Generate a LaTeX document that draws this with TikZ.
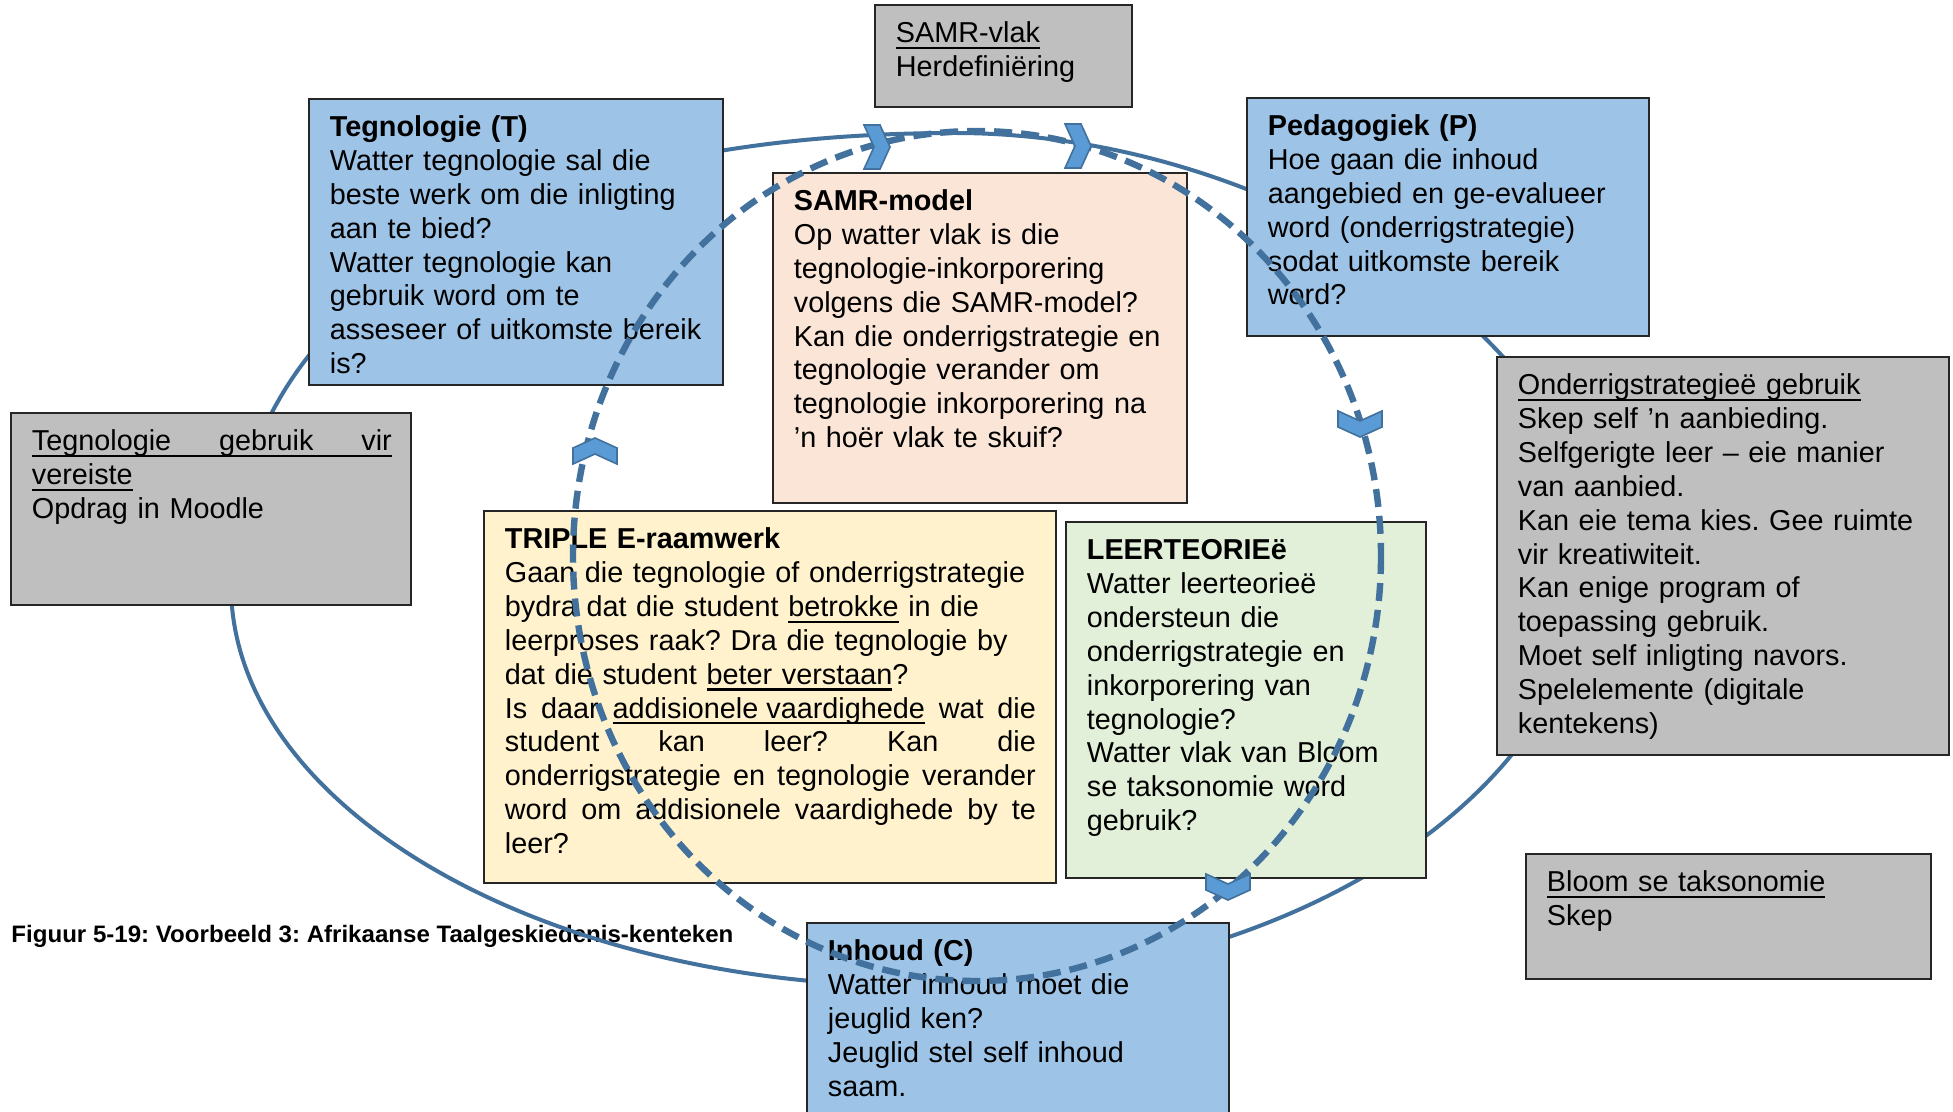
\documentclass[tikz,border=0pt]{standalone}
\usepackage{fontspec}
\setmainfont{Liberation Sans}
\usepackage{graphicx}
\frenchspacing

% underline drawn as a rule under the given text
\newsavebox\ulbox
\newcommand\ulx[1]{\leavevmode\sbox\ulbox{#1}\rlap{\rule[-3.2pt]{\wd\ulbox}{1.1pt}}\usebox\ulbox}
% a justified line: the spaces stretch to fill the given width
\newcommand\fillline[2]{\leavevmode\hbox to #1{\spaceskip=0.278em plus 1fil\relax #2}}

\definecolor{boxblue}{HTML}{9DC3E6}
\definecolor{boxpeach}{HTML}{FBE5D6}
\definecolor{boxcream}{HTML}{FFF2CC}
\definecolor{boxgreen}{HTML}{E2F0D9}
\definecolor{boxgrey}{HTML}{BFBFBF}
\definecolor{ringblue}{HTML}{41719C}
\definecolor{chevblue}{HTML}{5B9BD5}

\begin{document}
\begin{tikzpicture}[x=0.5pt,y=-0.5pt,
  panel/.style={draw=black!85, line width=0.75pt, anchor=north west, inner sep=0pt, outer sep=0pt},
  body/.style={anchor=base west, inner sep=0pt, align=left,
    font=\fontsize{14.4pt}{16.95pt}\selectfont},
  ring/.style={draw=ringblue, line width=2pt},
  dashring/.style={draw=ringblue, line width=3.2pt, dash pattern=on 9pt off 4.5pt},
  chevstyle/.style={fill=chevblue, draw=ringblue, line width=0.8pt, line join=miter},
  chev/.pic={\path[chevstyle] (-13,-22) -- (3,-22) -- (13,0) -- (3,22) -- (-13,22) -- (-3,0) -- cycle;}
]
\clip (0,0) rectangle (1953,1112);
\fill[white] (0,0) rectangle (1953,1112);

% caption
\node[anchor=base west, inner sep=0pt] (caption) at (11,942)
  {\resizebox{361pt}{\height}{\bfseries\fontsize{11.9pt}{14pt}\selectfont Figuur 5-19: Voorbeeld 3: Afrikaanse Taalgeskiedenis-kenteken}};

% outer cycle: four quarter arcs meeting at its extreme points
\coordinate (ringw) at (231,585);
\coordinate (ringn) at (955,133);
\coordinate (ringe) at (1590,550);
\coordinate (rings) at (920,986);
\draw[ring] (ringw) .. controls (231,304.8) and (506.1,133) .. (ringn)
  .. controls (1272.5,133) and (1590,341.5) .. (ringe)
  .. controls (1590,790.8) and (1290,986) .. (rings)
  .. controls (539.5,986) and (231,806.5) .. (ringw) -- cycle;

% panels
\node[panel, fill=boxgrey, minimum width=128.5pt, minimum height=51pt] (samrvlak) at (875,5) {};
\node[panel, fill=boxblue, minimum width=207pt, minimum height=143pt] (tech) at (309,99) {};
\node[panel, fill=boxblue, minimum width=201pt, minimum height=119pt] (ped) at (1247,98) {};
\node[panel, fill=boxpeach, minimum width=207pt, minimum height=165pt] (samr) at (773,173) {};
\node[panel, fill=boxgrey, minimum width=200pt, minimum height=96pt] (gebr) at (11,413) {};
\node[panel, fill=boxcream, minimum width=286pt, minimum height=186pt] (triple) at (484,511) {};
\node[panel, fill=boxgreen, minimum width=180pt, minimum height=178pt] (leer) at (1066,522) {};
\node[panel, fill=boxgrey, minimum width=226pt, minimum height=199pt] (ondr) at (1497,357) {};
\node[panel, fill=boxgrey, minimum width=202.5pt, minimum height=62.5pt] (bloom) at (1526,854) {};
\node[panel, fill=boxblue, minimum width=211pt, minimum height=110pt] (inhoud) at (807,923) {};

% panel texts
\node[body, text width=118pt] (samrvlaktxt) at ([shift={(20.5,37.5)}]samrvlak.north west)
  {\ulx{SAMR-vlak}\\Herdefiniëring};
\node[body, text width=200pt] (techtxt) at ([shift={(20.5,37.5)}]tech.north west)
  {\textbf{Tegnologie (T)}\\
   Watter tegnologie sal die\\
   beste werk om die inligting\\
   aan te bied?\\
   Watter tegnologie kan\\
   gebruik word om te\\
   asseseer of uitkomste bereik\\
   is?};
\node[body, text width=195pt] (pedtxt) at ([shift={(20.5,37.5)}]ped.north west)
  {\textbf{Pedagogiek (P)}\\
   Hoe gaan die inhoud\\
   aangebied en ge-evalueer\\
   word (onderrigstrategie)\\
   sodat uitkomste bereik\\
   word?};
\node[body, text width=200pt] (samrtxt) at ([shift={(20.5,37.5)}]samr.north west)
  {\textbf{SAMR-model}\\
   Op watter vlak is die\\
   tegnologie-inkorporering\\
   volgens die SAMR-model?\\
   Kan die onderrigstrategie en\\
   tegnologie verander om\\
   tegnologie inkorporering na\\
   ’n hoër vlak te skuif?};
\node[body, text width=190pt] (gebrtxt) at ([shift={(20.5,37.5)}]gebr.north west)
  {\ulx{\fillline{180pt}{Tegnologie gebruik vir}}\\
   \ulx{vereiste}\\
   Opdrag in Moodle};
\node[body, text width=276pt] (tripletxt) at ([shift={(20.5,37.5)}]triple.north west)
  {\textbf{TRIPLE E-raamwerk}\\
   Gaan die tegnologie of onderrigstrategie\\
   bydra dat die student \ulx{betrokke} in die\\
   leerproses raak? Dra die tegnologie by\\
   dat die student \ulx{beter verstaan}?\\
   \fillline{265.5pt}{Is daar \ulx{addisionele vaardighede} wat die}\\
   \fillline{265.5pt}{student kan leer? Kan die}\\
   \fillline{265.5pt}{onderrigstrategie en tegnologie verander}\\
   \fillline{265.5pt}{word om addisionele vaardighede by te}\\
   leer?};
\node[body, text width=175pt] (leertxt) at ([shift={(20.5,37.5)}]leer.north west)
  {\textbf{LEERTEORIEë}\\
   Watter leerteorieë\\
   ondersteun die\\
   onderrigstrategie en\\
   inkorporering van\\
   tegnologie?\\
   Watter vlak van Bloom\\
   se taksonomie word\\
   gebruik?};
\node[body, text width=218pt] (ondrtxt) at ([shift={(20.5,37.5)}]ondr.north west)
  {\ulx{Onderrigstrategieë gebruik}\\
   Skep self ’n aanbieding.\\
   Selfgerigte leer – eie manier\\
   van aanbied.\\
   Kan eie tema kies. Gee ruimte\\
   vir kreatiwiteit.\\
   Kan enige program of\\
   toepassing gebruik.\\
   Moet self inligting navors.\\
   Spelelemente (digitale\\
   kentekens)};
\node[body, text width=190pt] (bloomtxt) at ([shift={(20.5,37.5)}]bloom.north west)
  {\ulx{Bloom se taksonomie}\\Skep};
\node[body, text width=200pt] (inhoudtxt) at ([shift={(20.5,37.5)}]inhoud.north west)
  {\textbf{Inhoud (C)}\\
   Watter inhoud moet die\\
   jeuglid ken?\\
   Jeuglid stel self inhoud\\
   saam.};

% inner dashed cycle with direction chevrons
\coordinate (dashc) at (977,556);
\draw[dashring] (dashc) ellipse [x radius=404, y radius=425];
\pic[rotate=0] (chevtl) at (877,147) {chev};
\pic[rotate=0] (chevtr) at (1078,146) {chev};
\pic[rotate=-90] (chevr) at (1360,424) {chev};
\pic[rotate=-90] (chevb) at (1228,887) {chev};
\pic[rotate=90] (chevl) at (595,451) {chev};
\end{tikzpicture}
\end{document}
